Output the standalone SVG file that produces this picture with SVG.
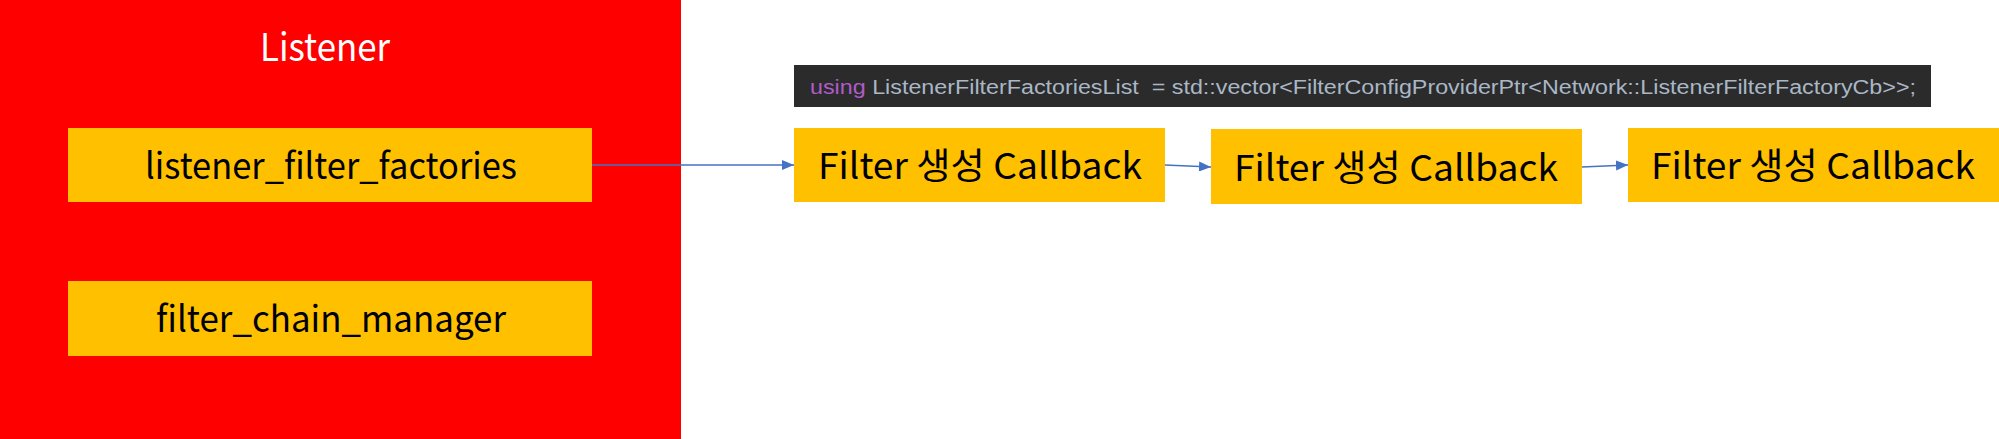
<svg xmlns="http://www.w3.org/2000/svg" width="1999" height="439" viewBox="0 0 1999 439">
<style>
.box{fill:#ffc000}
.t{font-family:"Noto Sans CJK KR","Noto Sans",sans-serif;fill:#000;font-size:36px}
.code{font-family:"Liberation Sans",Arial,sans-serif;font-size:20px;fill:#a9b7c6}
.kw{fill:#b05cc8}
.edge{stroke:#4472c4;stroke-width:1.3;fill:none;marker-end:url(#arr)}
</style>
<defs>
<marker id="arr" markerWidth="12" markerHeight="10" refX="12" refY="5" orient="auto" markerUnits="userSpaceOnUse">
<path d="M0,0 L12,5 L0,10 Z" fill="#4472c4"/>
</marker>
</defs>
<rect width="1999" height="439" fill="#fff"/>
<g id="listener">
<rect x="0" y="0" width="681" height="439" fill="#ff0000"/>
<text x="325" y="61" text-anchor="middle" font-family="Noto Sans CJK KR, Noto Sans, sans-serif" font-size="38" fill="#fff" textLength="130" lengthAdjust="spacingAndGlyphs">Listener</text>
</g>
<g id="listener_filter_factories">
<rect class="box" x="68" y="128" width="524" height="74"/>
<text class="t" x="145" y="179" textLength="372" lengthAdjust="spacingAndGlyphs">listener_filter_factories</text>
</g>
<g id="filter_chain_manager">
<rect class="box" x="68" y="281" width="524" height="75"/>
<text class="t" x="156" y="332" textLength="350" lengthAdjust="spacingAndGlyphs">filter_chain_manager</text>
</g>
<g id="code">
<rect x="794" y="65" width="1137" height="42" fill="#2b2b2b"/>
<text class="code" x="810" y="94" textLength="1106" lengthAdjust="spacingAndGlyphs" xml:space="preserve"><tspan class="kw">using</tspan> ListenerFilterFactoriesList  = std::vector&lt;FilterConfigProviderPtr&lt;Network::ListenerFilterFactoryCb&gt;&gt;;</text>
</g>
<g id="cb1">
<rect class="box" x="794" y="128" width="371" height="74"/>
<text class="t" x="818" y="179" textLength="324" lengthAdjust="spacingAndGlyphs">Filter 생성 Callback</text>
</g>
<g id="cb2">
<rect class="box" x="1211" y="129" width="371" height="75"/>
<text class="t" x="1234" y="181" textLength="324" lengthAdjust="spacingAndGlyphs">Filter 생성 Callback</text>
</g>
<g id="cb3">
<rect class="box" x="1628" y="128" width="371" height="74"/>
<text class="t" x="1651" y="179" textLength="324" lengthAdjust="spacingAndGlyphs">Filter 생성 Callback</text>
</g>
<g id="connectors">
<line class="edge" x1="592" y1="165" x2="794" y2="165"/>
<line class="edge" x1="1165" y1="165" x2="1211" y2="167"/>
<line class="edge" x1="1582" y1="167" x2="1628" y2="165"/>
</g>
</svg>
